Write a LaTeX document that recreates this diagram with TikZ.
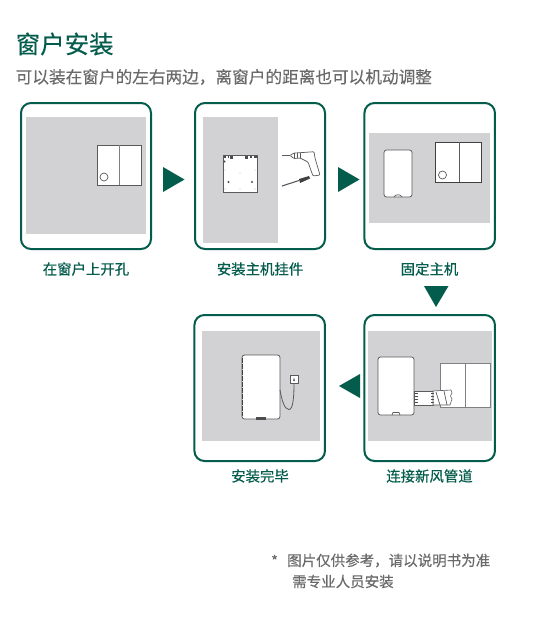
\documentclass[tikz,border=0pt]{standalone}
\usepackage{fontspec}
\setmainfont{Noto Sans CJK SC}
\newfontfamily\labelfont[FakeBold=0.45]{Noto Sans CJK SC}
\newfontfamily\softfont[FakeBold=0.2]{Noto Sans CJK SC}
\definecolor{brand}{HTML}{035C4C}
\definecolor{wall}{HTML}{D2D2D4}
\definecolor{subtext}{HTML}{6A6A6A}
\definecolor{linegray}{HTML}{5A5A5A}
\tikzset{
  card/.style={draw=brand,line width=2pt,rounded corners=10pt,fill=white,inner sep=0pt},
  wallfill/.style={fill=wall,draw=none},
  pane/.style={fill=white,draw=linegray,line width=0.8pt},
  thinline/.style={draw=linegray,line width=0.7pt},
  host/.style={fill=white,draw=linegray,line width=0.8pt,rounded corners=2.5pt},
  arrowhead/.style={fill=brand,draw=none},
  steplabel/.style={text=brand,font=\labelfont\fontsize{14.4}{14.4}\selectfont,inner sep=0pt},
  dotmark/.style={fill=black!70,draw=none},
}
\begin{document}
\begin{tikzpicture}[x=1pt,y=-1pt]
\useasboundingbox (0,0) rectangle (533,638);
\fill[white] (0,0) rectangle (533,638);

% header
\node[anchor=west,inner sep=0pt,text=brand,font=\softfont\fontsize{24.5}{24.5}\selectfont] (title) at (15.5,44) {窗户安装};
\node[anchor=west,inner sep=0pt,text=subtext,font=\softfont\fontsize{16.65}{16.65}\selectfont] (sub) at (15.5,77) {可以装在窗户的左右两边，离窗户的距离也可以机动调整};

% cards
\node[card,minimum width=130pt,minimum height=146pt] (c1) at (86,176) {};
\node[card,minimum width=130pt,minimum height=146pt] (c2) at (260,176) {};
\node[card,minimum width=130.5pt,minimum height=146pt] (c3) at (429.7,176) {};
\node[card,minimum width=130.5pt,minimum height=146pt] (c4) at (429.7,388) {};
\node[card,minimum width=130.5pt,minimum height=146pt] (c5) at (259.7,388) {};

% card 1
\fill[wallfill] (26,117) rectangle (146,234);
\draw[pane] (97,145) rectangle (141,185);
\draw[thinline,line width=1pt,draw=gray] (119,145) -- (119,185);
\draw[thinline] (104,177) circle (4);

% card 2
\fill[wallfill] (203,117) rectangle (278,243);
\draw[fill=white,draw=linegray,line width=0.6pt] (223,155) rectangle (257,192);
\fill[dotmark] (224,156) rectangle (226,158);
\fill[dotmark] (227.5,155.5) rectangle (229,158);
\fill[dotmark] (230,155.5) rectangle (233,158.5);
\fill[dotmark] (245,155.5) rectangle (248,158.5);
\fill[dotmark] (249.5,156) rectangle (252,158);
\fill[dotmark] (253.5,156) rectangle (256.5,158);
\fill[dotmark] (224.5,161.5) circle (1.2);
\fill[dotmark] (228.5,182) circle (1.2);
\fill[dotmark] (252,182) circle (1.2);
\foreach \px/\py in {225/170,255/170,240/173,225/189,240/189,255/189}
  \fill[dotmark] (\px,\py) circle (0.45);
% drill
\draw[thinline,line width=1.1pt] (282,155.7) -- (290,155.7);
\draw[thinline,rounded corners=1pt] (290,155.5) -- (294,153) -- (300,152.7) -- (314,151.7) -- (315,158) -- (320,175) -- (313,176) -- (308,162) -- (300,158) -- (294,158.5) -- cycle;
\draw[thinline] (294,153) -- (294,158.5) (297,152.8) -- (297,158.3) (300,152.7) -- (300,158);
% screwdriver
\draw[thinline,line width=1.1pt] (282,186) -- (299,180.5);
\draw[fill=black!75,draw=none] (299,179) -- (309,176) -- (310,178.5) -- (300,183) -- cycle;

% card 3
\fill[wallfill] (369,133) rectangle (490,223);
\draw[host] (384,150) rectangle (412,197);
\draw[thinline] (394,197) .. controls (395,194) and (401,194) .. (402,197);
\draw[pane,draw=black!75] (435,142) rectangle (481,182);
\draw[thinline] (459,142) -- (459,182);
\draw[thinline] (442.5,175) circle (4);

% card 4
\fill[wallfill] (368,331) rectangle (492,441);
\draw[pane,draw=gray] (440,363) rectangle (490,407);
\draw[thinline,draw=gray] (465,363) -- (465,407);
\draw[host] (378,357) rectangle (414,415);
\draw[thinline] (392,415) -- (393,412.5) -- (399,412.5) -- (400,415);
\draw[fill=white,draw=linegray,line width=0.6pt] (414,391) rectangle (433,405);
\draw[fill=white,draw=linegray,line width=0.6pt] (433,391) -- (451,390) -- (452,393) -- (450.5,396) -- (452,399) -- (450,405) -- (433,405) -- cycle;
\draw[thinline] (436,392) -- (440,405) (444,391) -- (447,405);
\foreach \sx in {416.5,432} \foreach \sy in {393.5,396.5,399.5,402.5}
  \fill[dotmark] (\sx-1.5,\sy-0.8) rectangle (\sx+1.5,\sy+0.8);

% card 5
\fill[wallfill] (202,331) rectangle (320,441);
\draw[host] (242,355) rectangle (280,419);
\draw[black!75,line width=1pt,dash pattern=on 5pt off 1pt] (242,358) -- (242,416);
\fill[dotmark] (256,417) rectangle (266,419.5);
\node[draw=linegray,fill=white,line width=0.6pt,minimum width=8pt,minimum height=8pt,inner sep=0pt] (sock) at (294,379.5) {};
\fill[dotmark] (293,381) -- (294,377.5) -- (295,381) -- (294.5,381) -- (294,379.5) -- (293.5,381) -- cycle;
\coordinate (cablestart) at (280,390);
\draw[thinline,line width=0.8pt] (cablestart) .. controls (282,402) and (285,409.5) .. (289,409.5) .. controls (293,409.5) and (294,397) .. (sock.south);

% arrows
\fill[arrowhead] (163,167) -- (184.5,179.5) -- (163,192) -- cycle;
\fill[arrowhead] (338,167) -- (359.5,179.5) -- (338,192) -- cycle;
\fill[arrowhead] (424,286) -- (448.5,286) -- (436,307) -- cycle;
\fill[arrowhead] (360,374) -- (339,386) -- (360,398) -- cycle;

% labels
\node[steplabel] (l1) at (86,269) {在窗户上开孔};
\node[steplabel] (l2) at (260,269) {安装主机挂件};
\node[steplabel] (l3) at (429.5,269) {固定主机};
\node[steplabel] (l4) at (429.5,476) {连接新风管道};
\node[steplabel] (l5) at (260,476) {安装完毕};

% footnote
\node[anchor=west,inner sep=0pt,text=subtext,font=\softfont\fontsize{14.4}{14.4}\selectfont] (f0) at (271,560.5) {*};
\node[anchor=west,inner sep=0pt,text=subtext,font=\softfont\fontsize{14.5}{14.5}\selectfont] (f1) at (287,560.5) {图片仅供参考，请以说明书为准};
\node[anchor=west,inner sep=0pt,text=subtext,font=\softfont\fontsize{14.5}{14.5}\selectfont] (f2) at (292,581.5) {需专业人员安装};
\end{tikzpicture}
\end{document}
